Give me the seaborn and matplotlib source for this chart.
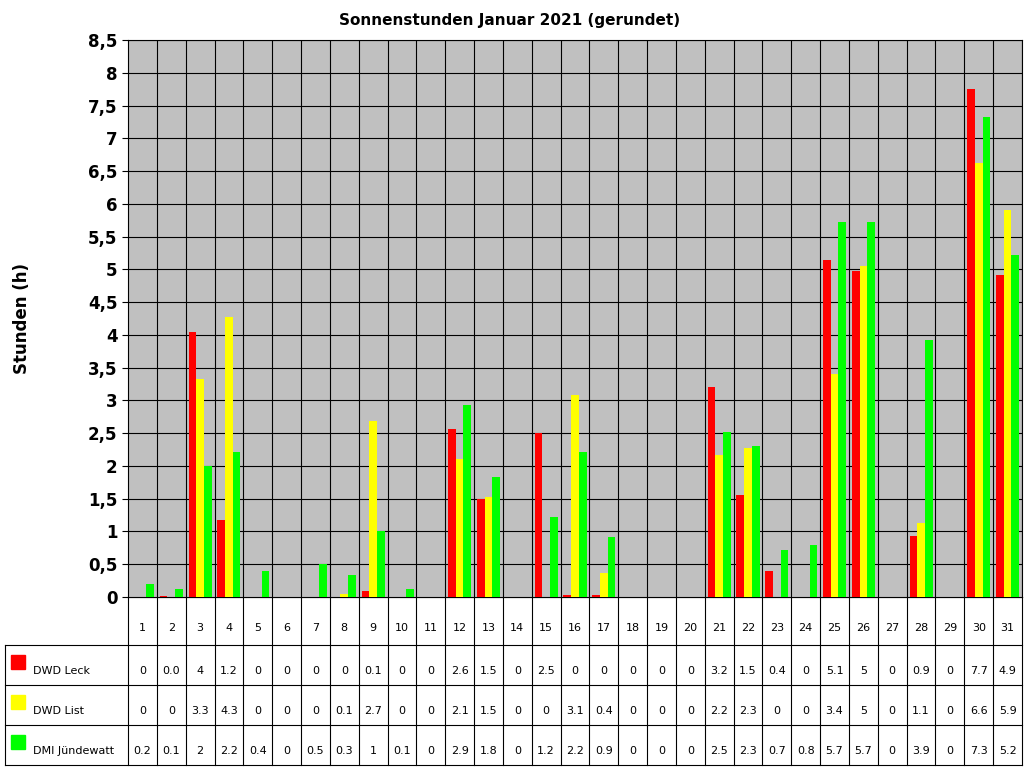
import matplotlib
matplotlib.use("Agg")
import matplotlib.pyplot as plt
import seaborn as sns
import pandas as pd
import numpy as np

days = list(range(1, 32))
series = ["DWD Leck", "DWD List", "DMI Jündewatt"]
colors = ["#FF0000", "#FFFF00", "#00FF00"]

# bar heights (unrounded)
leck = [0, 0.02, 4.05, 1.18, 0, 0, 0, 0, 0.09, 0, 0, 2.57, 1.5, 0, 2.5, 0.03, 0.03, 0, 0, 0,
        3.2, 1.55, 0.4, 0, 5.15, 4.98, 0, 0.93, 0, 7.75, 4.92]
list_ = [0, 0, 3.33, 4.28, 0, 0, 0, 0.05, 2.68, 0, 0, 2.1, 1.52, 0, 0, 3.08, 0.37, 0, 0, 0,
         2.17, 2.28, 0, 0, 3.4, 5.05, 0, 1.13, 0, 6.63, 5.9]
dmi = [0.2, 0.12, 2.0, 2.22, 0.4, 0, 0.5, 0.33, 1.0, 0.12, 0, 2.93, 1.83, 0, 1.22, 2.22, 0.92, 0, 0, 0,
       2.52, 2.3, 0.72, 0.8, 5.72, 5.72, 0, 3.92, 0, 7.33, 5.22]

# table texts (rounded values as printed)
leck_txt = ["0", "0.0", "4", "1.2", "0", "0", "0", "0", "0.1", "0", "0", "2.6", "1.5", "0", "2.5", "0", "0",
            "0", "0", "0", "3.2", "1.5", "0.4", "0", "5.1", "5", "0", "0.9", "0", "7.7", "4.9"]
list_txt = ["0", "0", "3.3", "4.3", "0", "0", "0", "0.1", "2.7", "0", "0", "2.1", "1.5", "0", "0", "3.1", "0.4",
            "0", "0", "0", "2.2", "2.3", "0", "0", "3.4", "5", "0", "1.1", "0", "6.6", "5.9"]
dmi_txt = ["0.2", "0.1", "2", "2.2", "0.4", "0", "0.5", "0.3", "1", "0.1", "0", "2.9", "1.8", "0", "1.2", "2.2",
           "0.9", "0", "0", "0", "2.5", "2.3", "0.7", "0.8", "5.7", "5.7", "0", "3.9", "0", "7.3", "5.2"]

df = pd.DataFrame({
    "Tag": [str(d) for d in days] * 3,
    "Serie": [s for s in series for _ in days],
    "Stunden": leck + list_ + dmi,
})

W, H = 1024, 768
fig = plt.figure(figsize=(W / 100, H / 100), dpi=100)
fig.patch.set_facecolor("white")

L, R, T, B = 128, 1022, 40, 597
ax = fig.add_axes([L / W, 1 - B / H, (R - L) / W, (B - T) / H])
ax.set_facecolor("#C0C0C0")
sns.barplot(data=df, x="Tag", y="Stunden", hue="Serie", palette=colors, ax=ax,
            width=0.8, saturation=1, legend=False, zorder=3)
ax.set_xlim(-0.5, 30.5)
ax.set_ylim(0, 8.5)
yt = np.arange(0, 8.51, 0.5)
ax.set_yticks(yt)
ax.set_yticklabels([("%g" % v).replace(".", ",") for v in yt], fontsize=12, fontweight="bold")
ax.set_xticks([])
ax.set_xlabel("")
ax.set_ylabel("")
for v in yt[1:]:
    ax.axhline(v, color="black", lw=0.8, zorder=1)
for i in range(31):
    ax.axvline(i + 0.5, color="black", lw=0.8, zorder=1)
for s in ax.spines.values():
    s.set_color("black")
ax.tick_params(axis="y", length=4)
fig.text(510 / W, 1 - 20 / H, "Sonnenstunden Januar 2021 (gerundet)", ha="center", va="center",
         fontsize=11, fontweight="bold")
fig.text(22 / W, 1 - 318 / H, "Stunden (h)", rotation=90, ha="center", va="center",
         fontsize=12, fontweight="bold")

# data table below the chart, pixel coordinates
tx = fig.add_axes([0, 0, 1, 1], zorder=-1)
tx.set_xlim(0, W)
tx.set_ylim(H, 0)
tx.axis("off")
cw = (R - L) / 31
rows_y = [597, 645, 685, 725, 765]
for y in rows_y:
    x0 = L if y == 597 else 5
    tx.plot([x0, R], [y, y], color="black", lw=0.8)
tx.plot([5, 5], [645, 765], color="black", lw=0.8)
for i in range(32):
    tx.plot([L + i * cw] * 2, [597, 765], color="black", lw=0.8)
for i, d in enumerate(days):
    tx.text(L + (i + 0.5) * cw, 628, str(d), ha="center", va="center", fontsize=8)
for r, (name, col, txt) in enumerate(zip(series, colors, [leck_txt, list_txt, dmi_txt])):
    yc = (rows_y[r + 1] + rows_y[r + 2]) / 2
    tx.add_patch(plt.Rectangle((11, yc - 10), 14, 14, color=col))
    tx.text(33, yc + 6, name, ha="left", va="center", fontsize=8)
    for i, t in enumerate(txt):
        tx.text(L + (i + 0.5) * cw, yc + 6, t, ha="center", va="center", fontsize=8)

fig.savefig("out.png", dpi=100)
